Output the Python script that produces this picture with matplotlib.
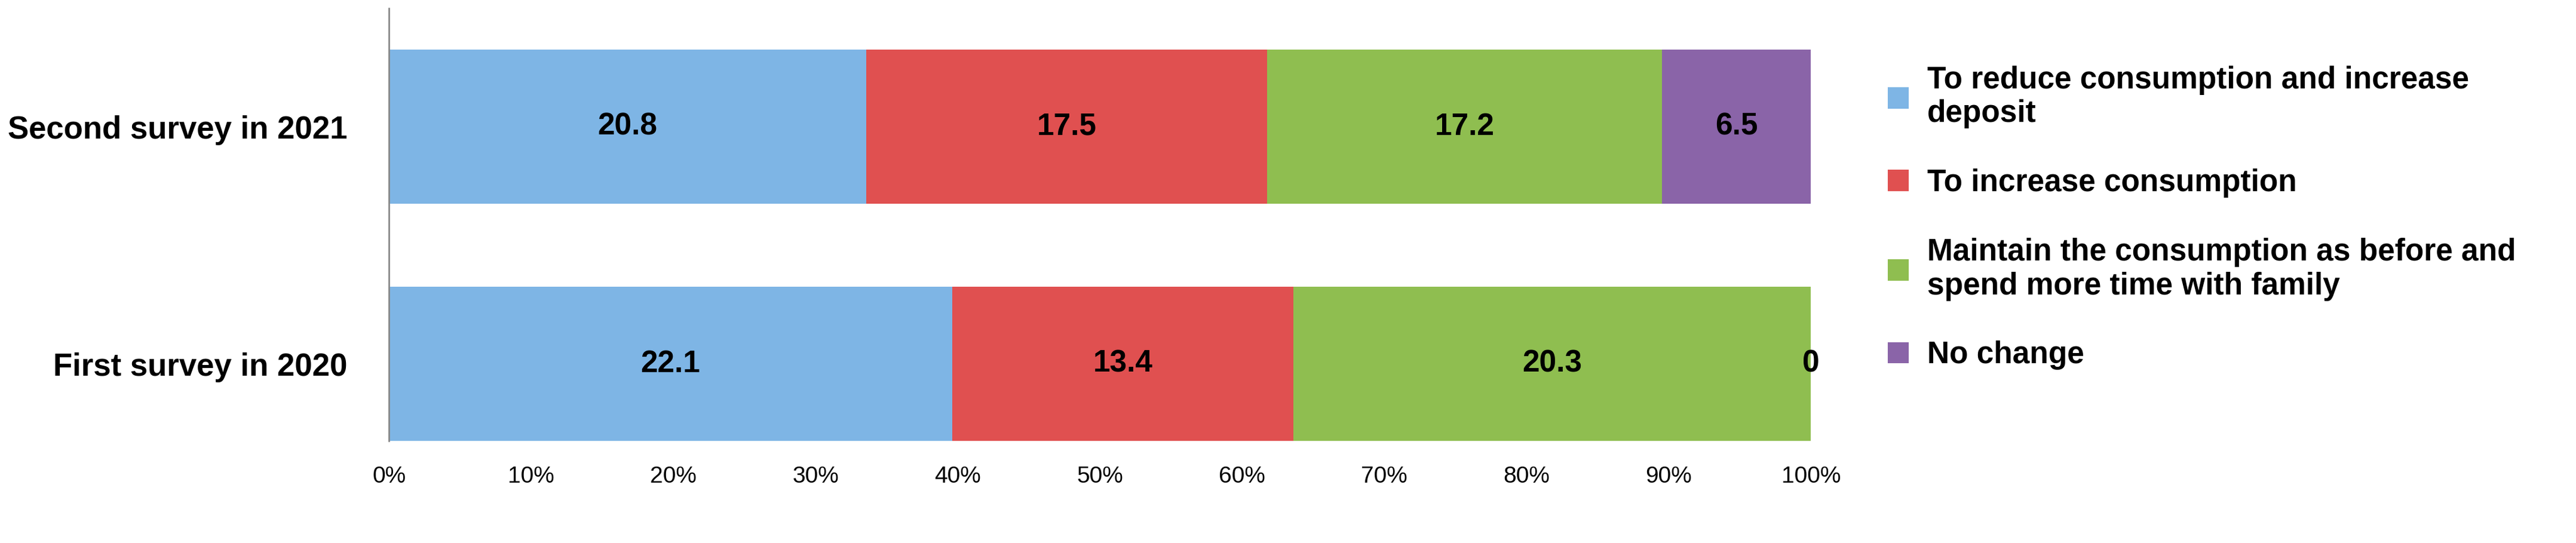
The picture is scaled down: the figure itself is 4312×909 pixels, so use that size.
import matplotlib.pyplot as plt
import numpy as np

plt.rcParams['font.family'] = ['Liberation Sans', 'DejaVu Sans']
plt.rcParams['font.weight'] = 'bold'

surveys = ['First survey in 2020', 'Second survey in 2021']
categories = ['To reduce consumption and increase\ndeposit',
              'To increase consumption',
              'Maintain the consumption as before and\nspend more time with family',
              'No change']
values = np.array([
    [22.1, 13.4, 20.3, 0],
    [20.8, 17.5, 17.2, 6.5],
])
colors = ['#7EB5E5', '#E05050', '#8FBE50', '#8A64A8']

share = values / values.sum(axis=1, keepdims=True)

fig = plt.figure(figsize=(43.12, 9.09), dpi=100)
ax = fig.add_axes([0.151, 0.188, 0.552, 0.797])

left = np.zeros(len(surveys))
y = np.arange(len(surveys))
for j, cat in enumerate(categories):
    ax.barh(y, share[:, j], left=left, height=0.65, color=colors[j], label=cat)
    for i in range(len(surveys)):
        ax.text(left[i] + share[i, j] / 2, y[i], f'{values[i, j]:g}',
                ha='center', va='center', fontsize=37, fontweight='bold')
    left += share[:, j]

ax.set_xlim(0, 1)
ax.set_ylim(-0.325, 1.5)
ax.set_yticks(y)
ax.set_yticklabels(surveys, fontsize=38, fontweight='bold')
ax.set_xticks(np.linspace(0, 1, 11))
ax.set_xticklabels([f'{int(p)}%' for p in np.linspace(0, 100, 11)], fontsize=28, fontweight='normal')
for s in ['top', 'right', 'bottom']:
    ax.spines[s].set_visible(False)
ax.spines['left'].set_color('#888888')
ax.spines['left'].set_linewidth(2)
ax.tick_params(axis='y', length=0, pad=50)
ax.tick_params(axis='x', length=0, pad=30)

fig.legend(loc='upper left', bbox_to_anchor=(0.722, 0.93), frameon=False,
           handlelength=0.7, handleheight=0.7, labelspacing=1.3,
           handletextpad=0.6, prop={'weight': 'bold', 'size': 37})

fig.savefig('out.png', dpi=100)
